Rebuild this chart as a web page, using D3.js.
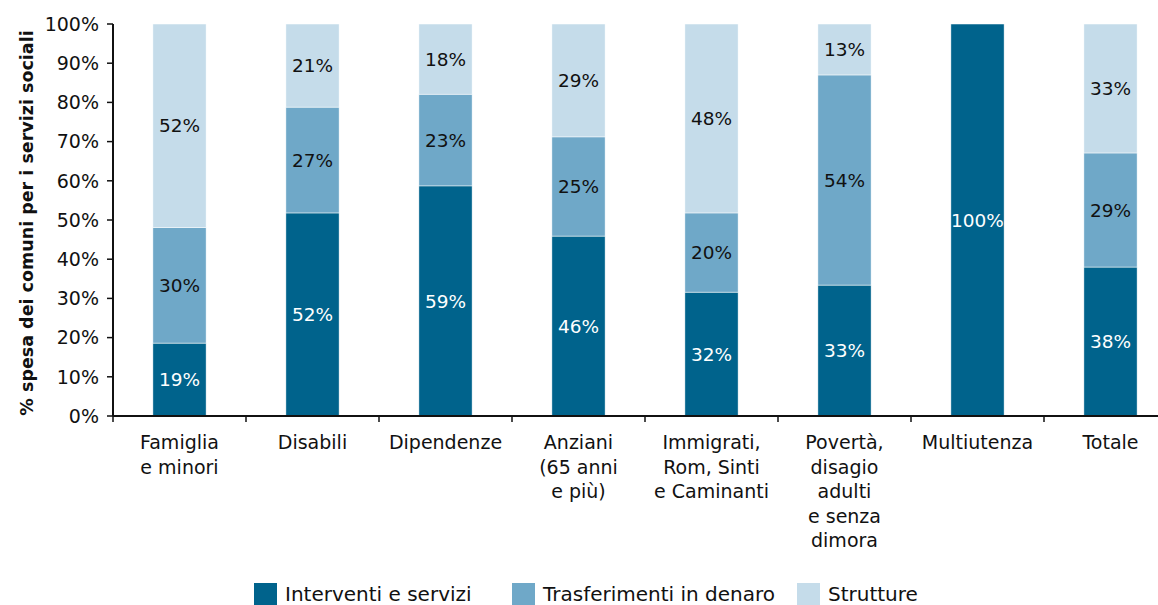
<!DOCTYPE html>
<html>
<head>
<meta charset="utf-8">
<script src="https://cdn.jsdelivr.net/npm/d3@7"></script>
<style>
  body { margin: 0; background: #fff; }
  svg { display: block; font-family: "DejaVu Sans", sans-serif; }
</style>
</head>
<body>
<svg id="chart" width="1158" height="605"></svg>
<script>
// categorie (righe multiple per le etichette)
const categories = ["Famiglia e minori", "Disabili", "Dipendenze", "Anziani (65 anni e più)",
  "Immigrati, Rom, Sinti e Caminanti", "Povertà, disagio adulti e senza dimora", "Multiutenza", "Totale"]
const categoryLines = [
  ["Famiglia", "e minori"],
  ["Disabili"],
  ["Dipendenze"],
  ["Anziani", "(65 anni", "e più)"],
  ["Immigrati,", "Rom, Sinti", "e Caminanti"],
  ["Povertà,", "disagio", "adulti", "e senza", "dimora"],
  ["Multiutenza"],
  ["Totale"]
]

// quote percentuali per tipo di spesa
const interventi    = [18.6, 51.8, 58.7, 45.9, 31.6, 33.4, 100, 38.0]
const trasferimenti = [29.5, 27.0, 23.4, 25.3, 20.2, 53.6, 0, 29.1]
const strutture     = [51.9, 21.2, 17.9, 28.8, 48.2, 13.0, 0, 32.9]

const seriesNames = ["Interventi e servizi", "Trasferimenti in denaro", "Strutture"]
const yTicks = [0, 10, 20, 30, 40, 50, 60, 70, 80, 90, 100]

const colors = ["#00638c", "#6fa8c8", "#c5dcea"]
const labelColors = ["#ffffff", "#111111", "#111111"]

const svg = d3.select("#chart")
const m = { left: 113, top: 24, bottom: 416 }

const rows = categories.map((c, i) => ({
  cat: c,
  [seriesNames[0]]: interventi[i],
  [seriesNames[1]]: trasferimenti[i],
  [seriesNames[2]]: strutture[i]
}))
const stacked = d3.stack().keys(seriesNames)(rows)

const x = d3.scaleBand()
  .domain(categories)
  .range([m.left, m.left + 133 * categories.length])
  .paddingInner(0.6)
  .paddingOuter(0.3)

const y = d3.scaleLinear().domain([0, 100]).range([m.bottom, m.top])

// barre
const layers = svg.selectAll("g.layer")
  .data(stacked)
  .enter()
  .append("g")
  .attr("class", "layer")
  .attr("fill", (d, i) => colors[i])

layers.selectAll("rect")
  .data(d => d)
  .enter()
  .append("rect")
  .attr("x", d => x(d.data.cat))
  .attr("width", x.bandwidth())
  .attr("y", d => y(d[1]))
  .attr("height", d => y(d[0]) - y(d[1]))
  .attr("stroke", "#ffffff")
  .attr("stroke-width", 0.5)

// etichette dei valori
stacked.forEach((layer, li) => {
  svg.append("g")
    .selectAll("text")
    .data(layer.filter(d => d[1] - d[0] > 0))
    .enter()
    .append("text")
    .attr("x", d => x(d.data.cat) + x.bandwidth() / 2)
    .attr("y", d => y((d[0] + d[1]) / 2))
    .attr("dy", "0.36em")
    .attr("text-anchor", "middle")
    .attr("font-size", 18.5)
    .attr("fill", labelColors[li])
    .text(d => Math.round(d[1] - d[0]) + "%")
})

// asse y
const yAxis = svg.append("g")
yAxis.append("line")
  .attr("x1", m.left).attr("x2", m.left)
  .attr("y1", y(100)).attr("y2", y(0))
  .attr("stroke", "#111").attr("stroke-width", 2)
yAxis.selectAll("line.tick")
  .data(yTicks)
  .enter()
  .append("line")
  .attr("class", "tick")
  .attr("x1", m.left - 6).attr("x2", m.left)
  .attr("y1", d => y(d)).attr("y2", d => y(d))
  .attr("stroke", "#111").attr("stroke-width", 1.5)
yAxis.selectAll("text")
  .data(yTicks)
  .enter()
  .append("text")
  .attr("x", m.left - 14)
  .attr("y", d => y(d))
  .attr("dy", "0.36em")
  .attr("text-anchor", "end")
  .attr("font-size", 19)
  .attr("fill", "#111")
  .text(d => d + "%")

svg.append("text")
  .attr("transform", `translate(33,${(y(0) + y(100)) / 2 + 3}) rotate(-90)`)
  .attr("text-anchor", "middle")
  .attr("font-size", 17.5)
  .attr("font-weight", "bold")
  .attr("fill", "#111")
  .text("% spesa dei comuni per i servizi sociali")

// asse x
const xAxis = svg.append("g")
xAxis.append("line")
  .attr("x1", m.left).attr("x2", 1158)
  .attr("y1", y(0)).attr("y2", y(0))
  .attr("stroke", "#111").attr("stroke-width", 2)
xAxis.selectAll("line.tick")
  .data(categories)
  .enter()
  .append("line")
  .attr("class", "tick")
  .attr("x1", d => x(d) - x.step() * x.paddingOuter())
  .attr("x2", d => x(d) - x.step() * x.paddingOuter())
  .attr("y1", y(0)).attr("y2", y(0) + 6)
  .attr("stroke", "#111").attr("stroke-width", 1.5)

const catLabels = xAxis.selectAll("text")
  .data(categories)
  .enter()
  .append("text")
  .attr("text-anchor", "middle")
  .attr("font-size", 19)
  .attr("fill", "#111")

catLabels.selectAll("tspan")
  .data((d, i) => categoryLines[i].map(t => ({ t, cat: d })))
  .enter()
  .append("tspan")
  .attr("x", d => x(d.cat) + x.bandwidth() / 2)
  .attr("y", (d, j) => 449 + j * 24.5)
  .text(d => d.t)

// legenda
const legendX = [254, 512, 797]
const legend = svg.append("g")
seriesNames.forEach((name, i) => {
  legend.append("rect")
    .attr("x", legendX[i]).attr("y", 583)
    .attr("width", 23).attr("height", 22)
    .attr("fill", colors[i])
  legend.append("text")
    .attr("x", legendX[i] + 31)
    .attr("y", 601)
    .attr("font-size", 20)
    .attr("fill", "#111")
    .text(name)
})
</script>
</body>
</html>
